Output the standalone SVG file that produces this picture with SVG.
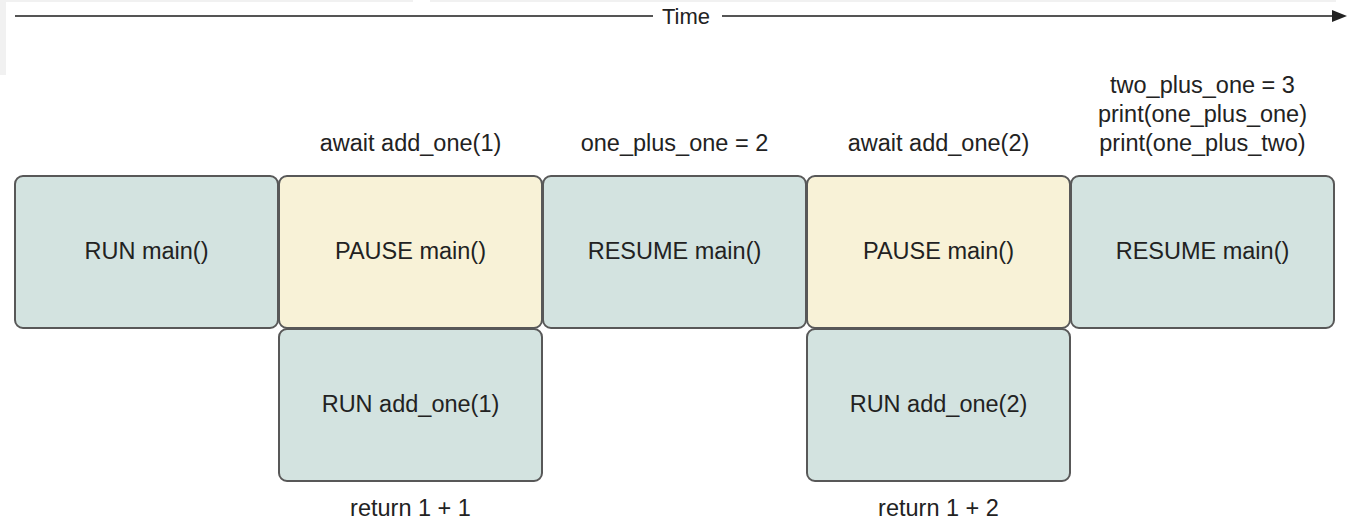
<svg xmlns="http://www.w3.org/2000/svg" width="1349" height="521" viewBox="0 0 1349 521">
<defs>
<style>
.box{stroke:#585858;stroke-width:2}
.run{fill:#d3e3e0}
.pause{fill:#f8f2d7}
text{font-family:"Liberation Sans",Arial,sans-serif;font-size:23.5px;fill:#222;text-anchor:middle}
.axis{stroke:#555;stroke-width:2;fill:none}
</style>
<marker id="arr" markerWidth="8" markerHeight="6" refX="1" refY="3" orient="auto" markerUnits="strokeWidth">
<path d="M0,0 L7.5,3 L0,6 z" fill="#222"/>
</marker>
</defs>
<rect x="0" y="0" width="1349" height="521" fill="#ffffff"/>
<rect x="0" y="0" width="6" height="75" fill="#f1f1f1"/>
<rect x="0" y="0" width="413" height="2" fill="#f1f1f1"/>
<rect x="430" y="0" width="906" height="2" fill="#f1f1f1"/>
<g id="connectors">
<line class="axis" x1="15" y1="16" x2="653" y2="16"/>
<line class="axis" x1="722" y1="16" x2="1334" y2="16" marker-end="url(#arr)"/>
<text x="686" y="24" style="font-size:22px">Time</text>
</g>
<g id="n1"><rect class="box run" x="15" y="176" width="263" height="152" rx="8"/><text x="146.5" y="258.5">RUN main()</text></g>
<g id="n2"><rect class="box pause" x="279" y="176" width="263" height="152" rx="8"/><text x="410.5" y="258.5">PAUSE main()</text><text x="410.5" y="151">await add_one(1)</text></g>
<g id="n3"><rect class="box run" x="543" y="176" width="263" height="152" rx="8"/><text x="674.5" y="258.5">RESUME main()</text><text x="674.5" y="151">one_plus_one = 2</text></g>
<g id="n4"><rect class="box pause" x="807" y="176" width="263" height="152" rx="8"/><text x="938.5" y="258.5">PAUSE main()</text><text x="938.5" y="151">await add_one(2)</text></g>
<g id="n5"><rect class="box run" x="1071" y="176" width="263" height="152" rx="8"/><text x="1202.5" y="258.5">RESUME main()</text><text x="1202.5" y="93">two_plus_one = 3</text><text x="1202.5" y="122">print(one_plus_one)</text><text x="1202.5" y="151">print(one_plus_two)</text></g>
<g id="n6"><rect class="box run" x="279" y="329" width="263" height="152" rx="8"/><text x="410.5" y="412">RUN add_one(1)</text><text x="410.5" y="516">return 1 + 1</text></g>
<g id="n7"><rect class="box run" x="807" y="329" width="263" height="152" rx="8"/><text x="938.5" y="412">RUN add_one(2)</text><text x="938.5" y="516">return 1 + 2</text></g>
</svg>
